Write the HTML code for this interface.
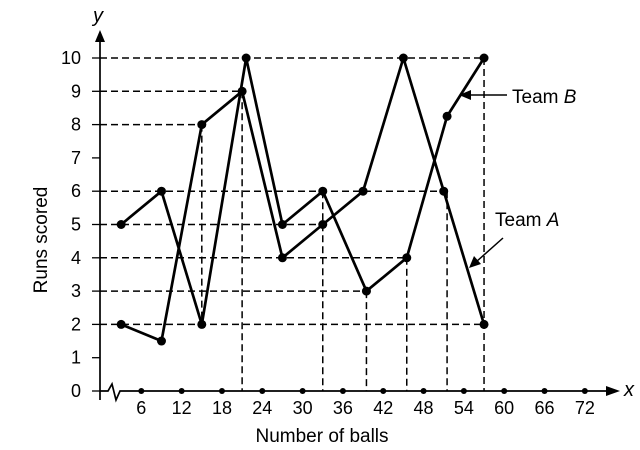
<!DOCTYPE html>
<html><head><meta charset="utf-8"><style>
body{margin:0;background:#fff}
svg{display:block;font-family:"Liberation Sans",sans-serif}
</style></head><body>
<svg id="c" width="640" height="450"></svg>
<script>
const xTicks=[6,12,18,24,30,36,42,48,54,60,66,72];
const yTicks=[0,1,2,3,4,5,6,7,8,9,10];
const teamAX=[3,9,15,21,27,33,39,45,51,57];
const teamAY=[2,1.5,8,9,4,5,6,10,6,2];
const teamBX=[3,9,15,21.6,27,33,39.5,45.5,51.5,57];
const teamBY=[5,6,2,10,5,6,3,4,8.25,10];
const NS="http://www.w3.org/2000/svg";
const svg=document.getElementById('c');
const X=v=>101+v*6.72, Y=v=>391-v*33.3;
function el(t,a,p){const e=document.createElementNS(NS,t);for(const k in a)e.setAttribute(k,a[k]);(p||svg).appendChild(e);return e;}
function dash(x1,y1,x2,y2){const e=el('line',{x1,y1,x2,y2,stroke:'#000','stroke-width':1.5,'stroke-dasharray':'7,4'});

}
[[10,57],[9,21],[8,15],[6,51],[5,33],[4,45],[3,39.5],[2,57]].forEach(([yv,xv])=>dash(100,Y(yv),X(xv),Y(yv)));
[[15,8,2]].forEach(([xv,a,b])=>dash(X(xv),Y(a),X(xv),Y(b)));
[[21,9],[33,6],[39.5,3],[45.5,4],[51.5,6],[57,10]].forEach(([xv,a])=>dash(X(xv),Y(a),X(xv),Y(0)));
let ax=el('line',{x1:100,y1:400,x2:100,y2:38,stroke:'#000','stroke-width':1.7});

el('path',{d:'M100,30 L95,42 L105,42 Z',fill:'#000'});
let xa=el('path',{d:'M100,391 L108,391 L112,384 L116,400 L120,391 L612,391',stroke:'#000','stroke-width':1.7,fill:'none'});

el('path',{d:'M620,391 L606,386 L606,396 Z',fill:'#000'});
yTicks.forEach(v=>{el('line',{x1:92,y1:Y(v),x2:100,y2:Y(v),stroke:'#000','stroke-width':1.3});
const t=el('text',{x:81,y:Y(v)+6,'text-anchor':'end','font-size':18});t.textContent=v;
});
xTicks.forEach(v=>{el('circle',{cx:X(v),cy:391,r:3,fill:'#000'});
const t=el('text',{x:X(v),y:414,'text-anchor':'middle','font-size':18});t.textContent=v;
});
function series(xs,ys,name){const p=el('polyline',{points:xs.map((x,i)=>X(x)+','+Y(ys[i])).join(' '),fill:'none',stroke:'#000','stroke-width':2.7,'stroke-linejoin':'round'});

xs.forEach((x,i)=>{const c=el('circle',{cx:X(x),cy:Y(ys[i]),r:4.5,fill:'#000'});
});}
series(teamAX,teamAY,'team-a');
series(teamBX,teamBY,'team-b');
function txt(s,a,name){const t=el('text',a);t.innerHTML=s;return t;}
txt('y',{x:93,y:22,'font-size':20,'font-style':'italic'},'y-axis-symbol');
txt('x',{x:624,y:396,'font-size':20,'font-style':'italic'},'x-axis-symbol');
txt('Runs scored',{x:47,y:240,'font-size':19,'text-anchor':'middle',transform:'rotate(-90 47 240)'},'y-axis-title');
txt('Number of balls',{x:322,y:442,'font-size':19,'text-anchor':'middle'},'x-axis-title');
txt('Team <tspan font-style="italic">B</tspan>',{x:512,y:103,'font-size':19},'team-b-label');
txt('Team <tspan font-style="italic">A</tspan>',{x:495,y:226,'font-size':19},'team-a-label');
el('line',{x1:507,y1:95,x2:468,y2:95,stroke:'#000','stroke-width':1.5});
el('path',{d:'M459,95 L471,90 L471,100 Z',fill:'#000'});
el('line',{x1:503,y1:238,x2:476,y2:262,stroke:'#000','stroke-width':1.5});
el('path',{d:'M469,268 L474,256 L481,264 Z',fill:'#000'});
</script>
</body></html>
